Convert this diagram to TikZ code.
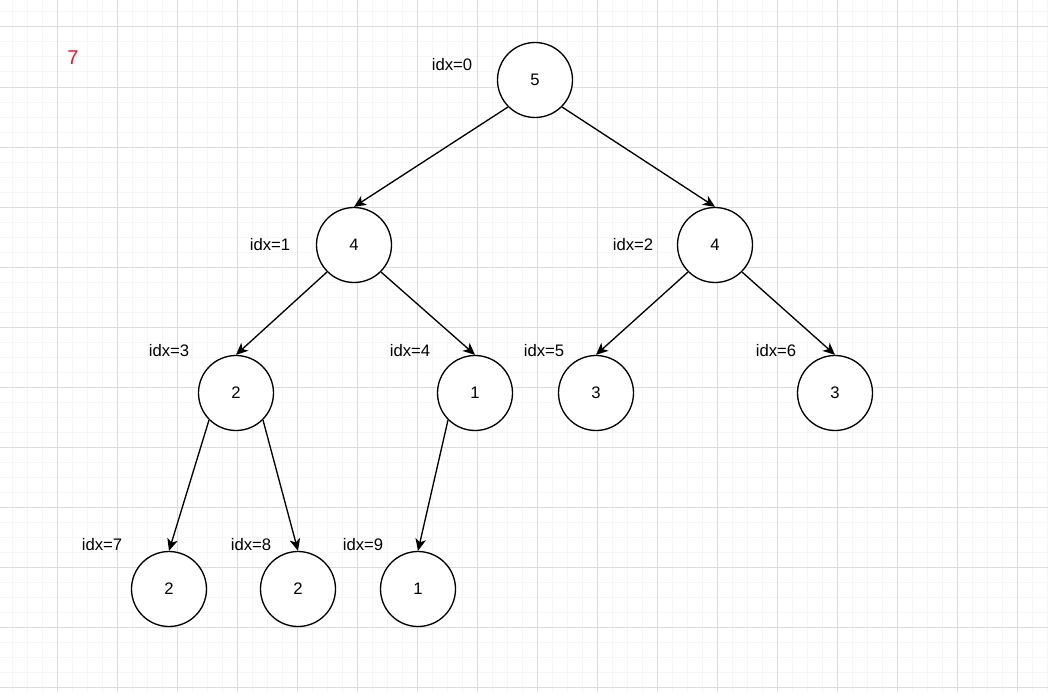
\documentclass[tikz,border=0pt]{standalone}
\usepackage{fontspec}
\setmainfont{Liberation Sans}
\usetikzlibrary{arrows.meta}
\definecolor{gridmaj}{RGB}{220,220,220}
\definecolor{gridmin}{RGB}{246,246,246}
\definecolor{cntred}{RGB}{232,28,42}
\tikzset{
  heapnode/.style={draw,circle,line width=1pt,minimum size=56.25pt,inner sep=0pt},
  idxlabel/.style={inner sep=0pt},
  edge/.style={line width=1pt,-{Stealth[length=9pt,width=8pt,inset=2.5pt]}}
}
\begin{document}
\begin{tikzpicture}[x=0.75pt,y=-0.75pt,every node/.style={font=\fontsize{12.5}{14}\selectfont}]
\useasboundingbox (0,0) rectangle (1048,692);
\fill[white] (0,0) rectangle (1048,692);
% grid
\foreach \x in {12,27,...,1047}{\draw[gridmin,line width=0.75pt] (\x,0)--(\x,692);}
\foreach \y in {12,27,...,687}{\draw[gridmin,line width=0.75pt] (0,\y)--(1048,\y);}
\foreach \x in {57,117,...,1017}{\draw[gridmaj,line width=0.75pt] (\x,0)--(\x,692);}
\foreach \y in {27,87,...,687}{\draw[gridmaj,line width=0.75pt] (0,\y)--(1048,\y);}
\node[text=cntred] (cnt) at (73,58){\fontsize{15}{17}\selectfont 7};
% heap
\foreach \i/\x/\y/\v in {0/535/80/5,1/354/245/4,2/715/245/4,3/236/393/2,4/475/393/1,5/596/393/3,6/835/393/3,7/169/589/2,8/298/589/2,9/418/589/1}{
  \node[heapnode,fill=white] (n\i) at (\x,\y){\v};}
\foreach \i/\x/\y in {0/452/65,1/270/245,2/633/245,3/169/351,4/410/351,5/544/351,6/776/351,7/102/545,8/251/545,9/363/545}{
  \node[idxlabel] (l\i) at (\x,\y){idx=\i};}
\foreach \a/\s/\b in {0/south west/1,0/south east/2,1/south west/3,1/south east/4,2/south west/5,2/south east/6,3/south west/7,3/south east/8,4/south west/9}{
  \draw[edge] (n\a.\s)--(n\b.north);}
\end{tikzpicture}
\end{document}
